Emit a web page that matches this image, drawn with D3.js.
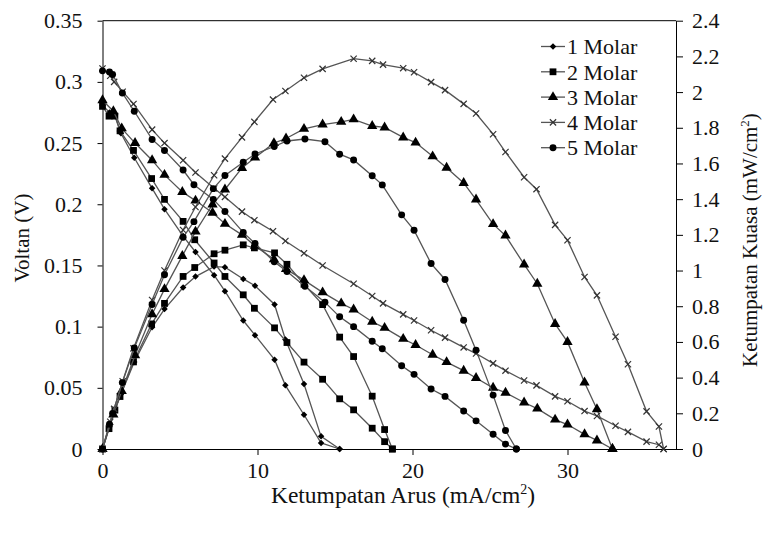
<!DOCTYPE html>
<html>
<head>
<meta charset="utf-8">
<script src="https://cdn.jsdelivr.net/npm/d3@7"></script>
<style>
  body { margin: 0; background: #fff; }
  text { font-family: 'Liberation Serif', 'Times New Roman', Tinos, 'DejaVu Serif', serif; fill: #111; }
</style>
</head>
<body>
<svg width="764" height="534"></svg>
<script>
// Data: current density (mA/cm2), voltage (V), power density (mW/cm2)
const current1 = [0, 0.45, 0.8, 1.19, 2.05, 3.2, 4.0, 5.2, 6.0, 7.2, 7.9, 9.08, 9.84, 11.1, 11.8, 13.0, 14.1, 15.3];
const voltage1 = [0.281, 0.275, 0.273, 0.258, 0.238, 0.213, 0.196, 0.174, 0.161, 0.142, 0.129, 0.105, 0.093, 0.073, 0.052, 0.028, 0.005, 0];
const power1 = [0, 0.124, 0.218, 0.307, 0.488, 0.682, 0.784, 0.905, 0.966, 1.022, 1.019, 0.953, 0.915, 0.81, 0.614, 0.364, 0.071, 0];

const current2 = [0, 0.42, 0.8, 1.13, 2.0, 3.17, 4.0, 5.2, 5.95, 7.2, 7.9, 9.08, 9.8, 11.1, 11.9, 13.0, 14.2, 15.3, 16.2, 17.4, 18.2, 18.7];
const voltage2 = [0.28, 0.272, 0.272, 0.26, 0.244, 0.221, 0.204, 0.186, 0.171, 0.152, 0.141, 0.126, 0.115, 0.099, 0.087, 0.071, 0.057, 0.041, 0.032, 0.017, 0.006, 0];
const power2 = [0, 0.114, 0.218, 0.294, 0.488, 0.701, 0.816, 0.967, 1.017, 1.094, 1.114, 1.144, 1.127, 1.099, 1.035, 0.923, 0.809, 0.627, 0.518, 0.296, 0.109, 0];

const current3 = [0, 0.7, 1.24, 2.1, 3.2, 4.0, 5.15, 6.0, 7.1, 7.9, 9.0, 9.84, 11.06, 11.84, 13.0, 14.2, 15.4, 16.2, 17.4, 18.2, 19.4, 20.2, 21.3, 22.2, 23.3, 24.1, 25.2, 26.0, 27.2, 28.05, 29.2, 30.0, 31.1, 31.9, 32.9];
const voltage3 = [0.285, 0.276, 0.262, 0.25, 0.236, 0.224, 0.21, 0.203, 0.193, 0.184, 0.175, 0.166, 0.155, 0.147, 0.138, 0.128, 0.119, 0.114, 0.104, 0.099, 0.09, 0.085, 0.077, 0.071, 0.064, 0.058, 0.05, 0.046, 0.038, 0.033, 0.024, 0.02, 0.012, 0.007, 0];
const power3 = [0, 0.193, 0.325, 0.525, 0.755, 0.896, 1.082, 1.218, 1.37, 1.454, 1.575, 1.633, 1.714, 1.74, 1.794, 1.818, 1.833, 1.847, 1.81, 1.802, 1.746, 1.717, 1.64, 1.576, 1.491, 1.398, 1.26, 1.196, 1.034, 0.926, 0.701, 0.6, 0.373, 0.223, 0];

const current4 = [0, 0.5, 0.75, 1.3, 2.0, 3.2, 4.0, 5.2, 6.0, 7.2, 7.9, 9.0, 9.8, 11.0, 11.8, 13.0, 14.2, 16.2, 17.4, 18.1, 19.4, 20.1, 21.2, 22.1, 23.3, 24.1, 25.2, 26.0, 27.2, 28.0, 29.2, 30.0, 31.1, 31.9, 33.1, 33.9, 35.1, 35.9, 36.2];
const voltage4 = [0.311, 0.305, 0.3, 0.292, 0.282, 0.261, 0.25, 0.236, 0.226, 0.213, 0.206, 0.194, 0.187, 0.178, 0.17, 0.16, 0.15, 0.135, 0.125, 0.119, 0.11, 0.105, 0.097, 0.091, 0.083, 0.078, 0.07, 0.064, 0.056, 0.052, 0.043, 0.039, 0.031, 0.027, 0.019, 0.014, 0.006, 0.0035, 0];
const power4 = [0, 0.153, 0.225, 0.38, 0.564, 0.835, 1.0, 1.227, 1.356, 1.534, 1.627, 1.746, 1.833, 1.958, 2.006, 2.08, 2.13, 2.187, 2.175, 2.154, 2.134, 2.111, 2.056, 2.011, 1.934, 1.88, 1.764, 1.664, 1.523, 1.456, 1.256, 1.17, 0.964, 0.861, 0.629, 0.475, 0.211, 0.126, 0];

const current5 = [0, 0.45, 0.65, 1.28, 2.05, 3.2, 4.0, 5.2, 5.9, 7.15, 7.9, 9.08, 9.84, 11.08, 11.9, 13.06, 14.35, 15.3, 16.2, 17.4, 18.05, 19.3, 20.1, 21.2, 22.1, 23.3, 24.1, 25.2, 26.0, 26.7];
const voltage5 = [0.309, 0.308, 0.306, 0.291, 0.276, 0.253, 0.244, 0.228, 0.216, 0.204, 0.194, 0.177, 0.168, 0.153, 0.145, 0.133, 0.12, 0.108, 0.1, 0.088, 0.082, 0.068, 0.061, 0.049, 0.043, 0.031, 0.023, 0.012, 0.004, 0];
const power5 = [0, 0.139, 0.199, 0.372, 0.566, 0.81, 0.976, 1.186, 1.274, 1.459, 1.533, 1.607, 1.653, 1.695, 1.726, 1.737, 1.722, 1.652, 1.62, 1.531, 1.48, 1.312, 1.226, 1.039, 0.95, 0.722, 0.554, 0.302, 0.104, 0];

const seriesNames = ['1 Molar', '2 Molar', '3 Molar', '4 Molar', '5 Molar'];
const xTicks = [0, 10, 20, 30];
const voltTicks = [0, 0.05, 0.1, 0.15, 0.2, 0.25, 0.3, 0.35];
const powerTicks = [0, 0.2, 0.4, 0.6, 0.8, 1, 1.2, 1.4, 1.6, 1.8, 2, 2.2, 2.4];

// SVG dimensions and margins
const svg = d3.select('svg');
const width = +svg.attr('width');
const height = +svg.attr('height');
const margin = {
  top: 20.7, right: 88, bottom: 85, left: 102.5,
};
const fontStack = "'Liberation Serif', 'Times New Roman', Tinos, 'DejaVu Serif', serif";

const xScale = d3.scaleLinear().domain([0, 37]).range([margin.left, width - margin.right]);
const yVolt = d3.scaleLinear().domain([0, 0.35]).range([height - margin.bottom, margin.top]);
const yPower = d3.scaleLinear().domain([0, 2.4]).range([height - margin.bottom, margin.top]);

const lineColor = '#555';

const markers = [
  { type: d3.symbolDiamond2, size: 27, stroke: false },
  { type: d3.symbolSquare, size: 46, stroke: false },
  { type: d3.symbolTriangle, size: 46, stroke: false },
  { type: d3.symbolX, size: 27, stroke: true },
  { type: d3.symbolCircle, size: 38, stroke: false },
];

const series = [
  [current1, voltage1, power1],
  [current2, voltage2, power2],
  [current3, voltage3, power3],
  [current4, voltage4, power4],
  [current5, voltage5, power5],
].map(([cur, volt, pow], i) => ({
  name: seriesNames[i],
  marker: markers[i],
  volt: cur.map((c, j) => ({ x: c, y: volt[j] })),
  power: cur.map((c, j) => ({ x: c, y: pow[j] })),
}));

// Frame: top border line
svg.append('line')
  .attr('x1', xScale(0)).attr('x2', xScale(37))
  .attr('y1', margin.top).attr('y2', margin.top)
  .attr('stroke', '#000');

// Axes
const styleAxis = (g) => {
  g.selectAll('path, line').attr('stroke', '#000');
  g.selectAll('text').attr('font-size', '22px').attr('fill', '#111')
    .attr('font-family', fontStack);
};

svg.append('g')
  .attr('transform', `translate(0,${height - margin.bottom})`)
  .call(d3.axisBottom(xScale).tickValues(xTicks).tickSize(6).tickSizeOuter(0).tickPadding(7))
  .call(styleAxis);

svg.append('g')
  .attr('transform', `translate(${margin.left},0)`)
  .call(d3.axisLeft(yVolt).tickValues(voltTicks).tickFormat((d) => String(d))
    .tickSize(5).tickSizeOuter(0).tickPadding(15))
  .call(styleAxis);

svg.append('g')
  .attr('transform', `translate(${width - margin.right},0)`)
  .call(d3.axisRight(yPower).tickValues(powerTicks).tickFormat((d) => String(d))
    .tickSize(7).tickSizeOuter(0).tickPadding(9))
  .call(styleAxis);

// Axis titles
const bottomTitle = svg.append('text')
  .attr('x', 403)
  .attr('y', 503)
  .attr('text-anchor', 'middle')
  .attr('font-family', fontStack)
  .attr('font-size', '23.5px');
bottomTitle.append('tspan').text('Ketumpatan Arus (mA/cm');
bottomTitle.append('tspan').attr('font-size', '14px').attr('dy', -9).text('2');
bottomTitle.append('tspan').attr('dy', 9).text(')');

svg.append('text')
  .attr('transform', 'translate(29,238) rotate(-90)')
  .attr('text-anchor', 'middle')
  .attr('font-family', fontStack)
  .attr('font-size', '21px')
  .text('Voltan (V)');

const rightTitle = svg.append('text')
  .attr('transform', 'translate(757,240) rotate(-90)')
  .attr('text-anchor', 'middle')
  .attr('font-family', fontStack)
  .attr('font-size', '21px');
rightTitle.append('tspan').text('Ketumpatan Kuasa (mW/cm');
rightTitle.append('tspan').attr('font-size', '13px').attr('dy', -8).text('2');
rightTitle.append('tspan').attr('dy', 8).text(')');

// Lines and markers
const drawMarker = (sel, marker) => {
  const sym = d3.symbol().type(marker.type).size(marker.size);
  sel.append('path')
    .attr('d', sym)
    .attr('fill', marker.stroke ? 'none' : '#000')
    .attr('stroke', marker.stroke ? '#333' : 'none')
    .attr('stroke-width', 1.2);
};

series.forEach((s) => {
  [[s.volt, yVolt], [s.power, yPower]].forEach(([pts, yScale]) => {
    const line = d3.line().x((d) => xScale(d.x)).y((d) => yScale(d.y));
    svg.append('path')
      .datum(pts)
      .attr('d', line)
      .attr('fill', 'none')
      .attr('stroke', lineColor)
      .attr('stroke-width', 1.3);
    svg.append('g')
      .selectAll('g')
      .data(pts)
      .enter()
      .append('g')
      .attr('transform', (d) => `translate(${xScale(d.x)},${yScale(d.y)})`)
      .each(function addMarker() { drawMarker(d3.select(this), s.marker); });
  });
});

// Legend
const legend = svg.append('g');
series.forEach((s, i) => {
  const y = 46.5 + i * 25.3;
  legend.append('line')
    .attr('x1', 541).attr('x2', 565)
    .attr('y1', y).attr('y2', y)
    .attr('stroke', lineColor)
    .attr('stroke-width', 1.3);
  const g = legend.append('g').attr('transform', `translate(553,${y})`);
  drawMarker(g, s.marker);
  legend.append('text')
    .attr('x', 567)
    .attr('y', y)
    .attr('dy', '0.35em')
    .attr('font-family', fontStack)
    .attr('font-size', '22px')
    .text(s.name);
});
</script>
</body>
</html>
